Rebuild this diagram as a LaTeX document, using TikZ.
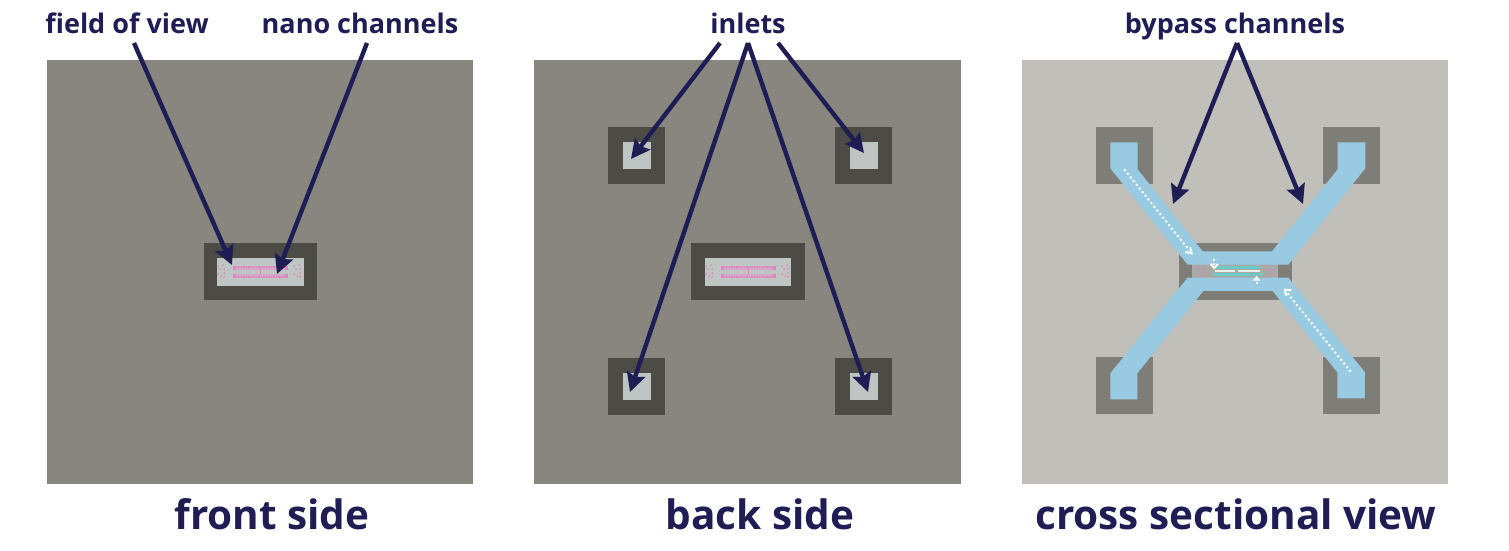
\documentclass[tikz,border=0pt]{standalone}
\usepackage{fontspec}
\setmainfont{Open Sans}
\usetikzlibrary{arrows.meta}
\definecolor{navy}{HTML}{201D55}
\definecolor{panel}{HTML}{88867F}
\definecolor{panellight}{HTML}{C0BFBA}
\definecolor{darksq}{HTML}{4D4B45}
\definecolor{greysq}{HTML}{7F7D77}
\definecolor{chipface}{HTML}{BFC5C3}
\definecolor{chipband}{HTML}{A9A9A6}
\definecolor{flow}{HTML}{98CBE2}
\definecolor{pinkline}{HTML}{DB86BC}
\definecolor{pinkpale}{HTML}{D6A6C6}
\definecolor{tealline}{HTML}{6CC9C6}
\definecolor{greenmark}{HTML}{7FBFA0}
\tikzset{
  x=1pt,y=-1pt,
  toplabel/.style={font=\fontsize{27}{27}\selectfont\bfseries,text=navy,inner sep=0pt,text height=18pt,text depth=9pt,anchor=south},
  bottomlabel/.style={font=\fontsize{40.5}{41}\selectfont\bfseries,text=navy,inner sep=0pt},
  callout/.style={draw=navy,line width=4.4pt,-{Stealth[length=19pt,width=19pt,inset=3pt]}},
  flowarrow/.style={draw=white,line width=2pt,dash pattern=on 2pt off 2.7pt},
  chevron/.style={draw=white,line width=2pt},
  pinkdot/.style={fill=pinkline,draw=none},
}
\newcommand{\sidedots}[2]{% x offset, y offset
  \foreach \dx/\dy in {0/1,5/0,2/4,6/4,0/9,6/8,3/11,6/12}{
    \fill[pinkdot] (#1+\dx,#2+\dy) circle[radius=1pt];
  }}
\newcommand{\chipmarks}[2]{% x offset, y offset
  \begin{scope}[shift={(#1,#2)}]
    \draw[pinkpale,line width=4pt] (13,7.5) -- (67,7.5) (13,15.5) -- (67,15.5);
    \draw[pinkline,line width=2pt,dash pattern=on 1.5pt off 1pt] (13,6.5) -- (67,6.5) (13,16.5) -- (67,16.5);
    \draw[pinkline,line width=1pt] (40,8) -- (40,15);
    \draw[pinkline,line width=3pt] (14,5.5) -- (14,9.5) (14,13.5) -- (14,17.5) (66,5.5) -- (66,9.5) (66,13.5) -- (66,17.5);
    \sidedots{-2}{5}
    \sidedots{74}{5}
  \end{scope}}
\begin{document}
\begin{tikzpicture}
\useasboundingbox (0,0) rectangle (1509,551);
\fill[white] (0,0) rectangle (1509,551);
% panels
\fill[panel] (47,60) rectangle (473,484);
\fill[panel] (534,60) rectangle (961,484);
\fill[panellight] (1022,60) rectangle (1448,484);
% front side
\fill[darksq] (204,243) rectangle (317,300);
\fill[chipface] (217,258) rectangle (304,286);
\chipmarks{220}{260}
% back side
\foreach \xa/\ya in {608/127,835/127,608/358,835/358}{
  \fill[darksq] (\xa,\ya) rectangle ++(57,57);
  \fill[chipface] (\xa+15,\ya+15) rectangle ++(28,27);
}
\fill[darksq] (691,243) rectangle (805,300);
\fill[chipface] (705,258) rectangle (791,286);
\chipmarks{708}{260}
% cross section
\foreach \xa/\ya in {1096/127,1323/127,1096/357,1323/357}{
  \fill[greysq] (\xa,\ya) rectangle ++(57,57);
}
\fill[greysq] (1179,243) rectangle (1292,300);
\fill[chipband] (1192,264) rectangle (1278,279);
\begin{scope}[shift={(1191,262)}]
  \draw[tealline,line width=3pt] (26,5) -- (69,5);
  \draw[tealline,line width=3pt] (22,12) -- (71,12);
  \draw[white!70!chipface,line width=1.2pt] (24,9) -- (44,9) (47,9) -- (69,9);
  \draw[greenmark,line width=1pt] (18,4) -- (18,15) (74,4) -- (74,15);
  \sidedots{7}{4}
  \sidedots{76}{4}
\end{scope}
\begin{scope}[shift={(1080,110)},x=0.3333pt,y=-0.3333pt]
  \fill[flow] (91,97) -- (173,97) -- (173,178) -- (368,424) -- (576,424) -- (773,178) -- (773,97) -- (856,97) -- (856,175) -- (625,464) -- (323,464) -- (91,175) -- cycle;
  \fill[flow] (323,503) -- (625,503) -- (855,787) -- (855,865) -- (772,865) -- (772,787) -- (578,543) -- (370,543) -- (172,790) -- (172,868) -- (91,868) -- (91,790) -- cycle;
  \draw[flowarrow] (133,178) -- (328,421);
  \draw[chevron] (316,426) -- (335,430) -- (331,412);
  \draw[flowarrow] (812,785) -- (622,549);
  \draw[chevron] (634,540) -- (615,540) -- (618,558);
  \draw[flowarrow] (403,446) -- (403,468);
  \draw[chevron] (392,462) -- (403,474) -- (414,462);
  \draw[flowarrow] (530,522) -- (530,510);
  \fill[white] (519,512) -- (530,497) -- (541,512) -- cycle;
\end{scope}
% labels
\node[toplabel] (fov) at (127,43) {field of view};
\node[toplabel] (nano) at (360,43) {nano channels};
\node[toplabel] (inl) at (748,43) {inlets};
\node[toplabel] (byp) at (1235,43) {bypass channels};
\node[bottomlabel] (front) at (272,514) {front side};
\node[bottomlabel] (back) at (760,514) {back side};
\node[bottomlabel] (cross) at (1236,514) {cross sectional view};
% arrow ends
\coordinate (t1) at (232,265);
\coordinate (t2) at (277,274);
\coordinate (t3) at (631,159);
\coordinate (t4) at (630,392);
\coordinate (t5) at (868,392);
\coordinate (t6) at (864,153);
\coordinate (t7) at (1173,204);
\coordinate (t8) at (1303,204);
\draw[callout] ([xshift=7pt]fov.south) -- (t1);
\draw[callout] ([xshift=7pt]nano.south) -- (t2);
\draw[callout] ([xshift=-28pt]inl.south) -- (t3);
\draw[callout] (inl.south) -- (t4);
\draw[callout] (inl.south) -- (t5);
\draw[callout] ([xshift=30pt]inl.south) -- (t6);
\draw[callout] ([xshift=2pt]byp.south) -- (t7);
\draw[callout] ([xshift=2pt]byp.south) -- (t8);
\end{tikzpicture}
\end{document}
